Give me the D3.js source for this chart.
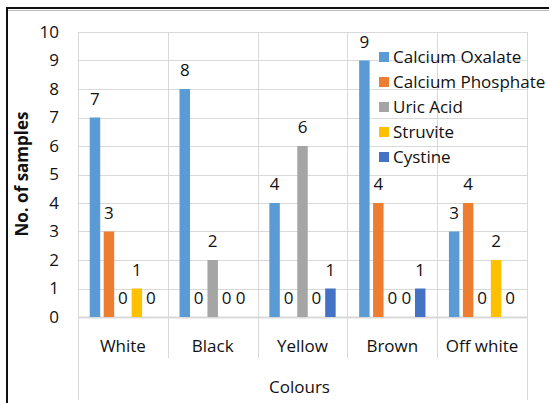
<!DOCTYPE html>
<html>
<head>
<meta charset="utf-8">
<script src="https://cdn.jsdelivr.net/npm/d3@7"></script>
<style>
  body { margin: 0; background: #fff; }
  svg { display: block; font-family: "Open Sans", sans-serif; }
</style>
</head>
<body>
<div id="chart"></div>
<script>
const categories = ["White", "Black", "Yellow", "Brown", "Off white"];
const seriesNames = ["Calcium Oxalate", "Calcium Phosphate", "Uric Acid", "Struvite", "Cystine"];
const calciumOxalate = [7, 8, 4, 9, 3];
const calciumPhosphate = [3, 0, 0, 4, 4];
const uricAcid = [0, 2, 6, 0, 0];
const struvite = [1, 0, 0, 0, 2];
const cystine = [0, 0, 1, 1, 0];
const yTicks = [0, 1, 2, 3, 4, 5, 6, 7, 8, 9, 10];
const colours = ["#5B9BD5", "#ED7D31", "#A5A5A5", "#FFC000", "#4472C4"];

const allSeries = [calciumOxalate, calciumPhosphate, uricAcid, struvite, cystine];
const data = categories.map((c, i) => ({
    cat: c,
    values: seriesNames.map((s, j) => ({ key: s, value: allSeries[j][i] }))
}));

const width = 549, height = 403;
const marginLeft = 78, marginRight = 22, marginTop = 32, zeroY = 317;
const fontSize = "17px";

const svg = d3.select("#chart").append("svg")
    .attr("width", width)
    .attr("height", height);

svg.append("rect")
    .attr("width", width).attr("height", height)
    .attr("fill", "#fff");

// outer frame (double line at top like the picture)
svg.append("line")
    .attr("x1", 7).attr("x2", width)
    .attr("y1", 10.5).attr("y2", 10.5)
    .attr("stroke", "#bbb");
svg.append("rect")
    .attr("x", 7).attr("y", 8)
    .attr("width", 700).attr("height", 600)
    .attr("fill", "none")
    .attr("stroke", "#111")
    .attr("stroke-width", 2);

let x0 = d3.scaleBand()
    .domain(categories)
    .range([marginLeft, width - marginRight]);

let x1 = d3.scaleBand()
    .domain(seriesNames)
    .range([0, x0.bandwidth()])
    .paddingInner(0.25)
    .paddingOuter(0.84);

let y = d3.scaleLinear()
    .domain([0, 10])
    .range([zeroY, marginTop]);

// horizontal gridlines
svg.append("g")
    .selectAll("line")
    .data(yTicks)
    .join("line")
    .attr("x1", marginLeft)
    .attr("x2", width - marginRight)
    .attr("y1", d => Math.round(y(d)) + 0.5)
    .attr("y2", d => Math.round(y(d)) + 0.5)
    .attr("stroke", "#d9d9d9")
    .attr("stroke-width", d => d === 0 ? 2 : 1);

// vertical category lines
const bounds = categories.map(c => x0(c)).concat([x0.range()[1]]);
svg.append("g")
    .selectAll("line")
    .data(bounds)
    .join("line")
    .attr("x1", d => Math.round(d) + 0.5)
    .attr("x2", d => Math.round(d) + 0.5)
    .attr("y1", marginTop)
    .attr("y2", (d, i) => (i === 0 || i === bounds.length - 1) ? 400 : 358)
    .attr("stroke", "#d9d9d9");

// y tick labels
svg.append("g")
    .selectAll("text")
    .data(yTicks)
    .join("text")
    .attr("x", 59)
    .attr("y", d => y(d))
    .attr("dy", "0.35em")
    .attr("text-anchor", "end")
    .style("font-size", fontSize)
    .style("fill", "#111")
    .text(d => d);

// bars
const groups = svg.append("g")
    .selectAll("g")
    .data(data)
    .join("g")
    .attr("transform", d => `translate(${x0(d.cat)},0)`);

groups.selectAll("rect")
    .data(d => d.values)
    .join("rect")
    .attr("x", d => x1(d.key))
    .attr("y", d => y(d.value))
    .attr("width", x1.bandwidth())
    .attr("height", d => y(0) - y(d.value))
    .attr("fill", (d, i) => colours[i]);

groups.selectAll("text")
    .data(d => d.values)
    .join("text")
    .attr("x", d => x1(d.key) + x1.bandwidth() / 2)
    .attr("y", d => y(d.value) - 13)
    .attr("text-anchor", "middle")
    .style("font-size", fontSize)
    .style("fill", "#111")
    .text(d => d.value);

// category labels
svg.append("g")
    .selectAll("text")
    .data(categories)
    .join("text")
    .attr("x", d => x0(d) + x0.bandwidth() / 2)
    .attr("y", 352)
    .attr("text-anchor", "middle")
    .style("font-size", fontSize)
    .style("fill", "#111")
    .text(d => d);

svg.append("text")
    .attr("x", (marginLeft + width - marginRight) / 2 - 3)
    .attr("y", 393)
    .attr("text-anchor", "middle")
    .style("font-size", fontSize)
    .style("fill", "#111")
    .text("Colours");

svg.append("text")
    .attr("transform", `translate(28, 174) rotate(-90)`)
    .attr("text-anchor", "middle")
    .style("font-size", "17px")
    .style("font-weight", "bold")
    .style("fill", "#111")
    .text("No. of samples");

// legend
const legend = svg.append("g")
    .attr("transform", "translate(379, 57)");

const items = legend.selectAll("g")
    .data(seriesNames)
    .join("g")
    .attr("transform", (d, i) => `translate(0, ${i * 25})`);

items.append("rect")
    .attr("x", 0).attr("y", -5)
    .attr("width", 10).attr("height", 10)
    .attr("fill", (d, i) => colours[i]);

items.append("text")
    .attr("x", 14)
    .attr("dy", "0.35em")
    .style("font-size", fontSize)
    .style("fill", "#111")
    .text(d => d);
</script>
</body>
</html>
